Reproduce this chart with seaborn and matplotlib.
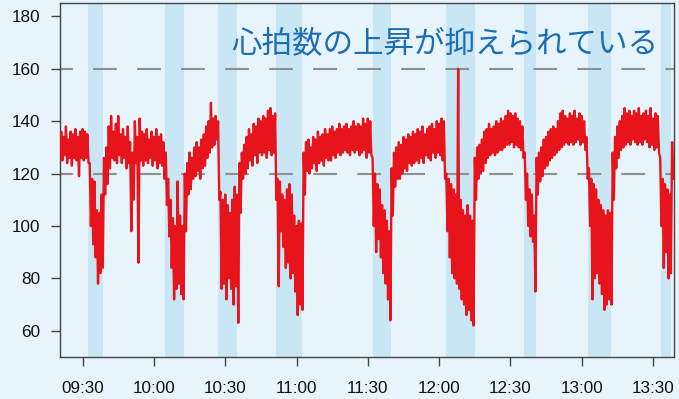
import matplotlib
matplotlib.use("Agg")
import matplotlib.pyplot as plt
import seaborn as sns
import pandas as pd

# ---------------- data ----------------
# minutes after 09:00, one entry per minute
minutes = list(range(20, 279))
# per-minute upper and lower extremes of the heart-rate trace (bpm)
hr_upper = [
    135, 136, 134, 138, 133, 136, 135, 137, 134, 136,
    137, 136, 135, 124, 118, 117, 106, 105, 112, 126,
    130, 138, 142, 136, 139, 142, 135, 137, 134, 138,
    132, 128, 140, 134, 141, 136, 135, 137, 133, 136,
    134, 137, 134, 135, 132, 128, 118, 110, 103, 100,
    117, 104, 100, 120, 124, 128, 126, 130, 132, 130,
    133, 135, 138, 140, 147, 141, 142, 140, 113, 110,
    112, 108, 105, 110, 115, 112, 124, 128, 131, 134,
    137, 135, 139, 138, 141, 140, 142, 141, 144, 145,
    142, 143, 118, 117, 112, 110, 114, 116, 112, 104,
    100, 102, 101, 128, 132, 133, 130, 134, 133, 136,
    134, 135, 137, 135, 137, 138, 136, 137, 139, 137,
    138, 139, 137, 138, 140, 138, 139, 138, 141, 139,
    141, 140, 126, 120, 116, 114, 108, 106, 102, 98,
    122, 128, 130, 132, 131, 134, 133, 135, 134, 136,
    135, 137, 136, 138, 135, 137, 138, 139, 137, 140,
    139, 141, 140, 120, 118, 116, 114, 112, 160, 110,
    106, 104, 108, 104, 102, 126, 130, 131, 133, 136,
    137, 139, 137, 138, 140, 139, 141, 140, 142, 144,
    143, 142, 143, 141, 140, 138, 128, 120, 114, 112,
    104, 126, 128, 130, 133, 134, 136, 137, 138, 137,
    140, 143, 144, 142, 141, 143, 142, 144, 141, 143,
    142, 140, 134, 122, 118, 116, 114, 110, 108, 106,
    104, 106, 105, 128, 134, 138, 140, 142, 145, 143,
    144, 142, 144, 143, 145, 142, 143, 144, 142, 145,
    141, 143, 142, 126, 118, 116, 114, 112, 132,
]
hr_lower = [
    126, 125, 127, 124, 126, 123, 126, 125, 119, 126,
    125, 126, 124, 100, 93, 88, 78, 82, 84, 112,
    116, 122, 126, 125, 124, 127, 124, 126, 122, 124,
    98, 110, 124, 86, 125, 123, 125, 124, 126, 123,
    125, 122, 124, 123, 118, 108, 96, 84, 72, 76,
    78, 74, 72, 98, 112, 114, 118, 119, 121, 118,
    122, 123, 126, 128, 130, 131, 133, 110, 76, 78,
    72, 80, 76, 70, 77, 63, 105, 118, 120, 122,
    125, 123, 127, 124, 128, 127, 128, 126, 129, 127,
    128, 110, 77, 98, 92, 84, 86, 80, 82, 75,
    66, 70, 68, 112, 121, 120, 122, 124, 121, 124,
    125, 123, 126, 125, 125, 127, 126, 128, 127, 128,
    129, 128, 127, 129, 128, 129, 127, 128, 129, 126,
    128, 127, 100, 90, 95, 88, 82, 78, 72, 64,
    104, 115, 118, 118, 120, 122, 121, 124, 123, 124,
    125, 124, 126, 124, 127, 126, 125, 128, 126, 128,
    127, 125, 118, 98, 88, 82, 80, 78, 76, 72,
    70, 66, 68, 64, 62, 110, 118, 120, 121, 124,
    126, 127, 128, 127, 128, 129, 129, 130, 131, 131,
    132, 130, 131, 130, 129, 126, 110, 100, 96, 94,
    75, 112, 117, 119, 122, 123, 125, 126, 127, 128,
    129, 130, 131, 132, 131, 132, 131, 132, 133, 131,
    132, 129, 118, 100, 72, 80, 82, 78, 74, 68,
    70, 72, 70, 110, 122, 126, 129, 130, 131, 132,
    131, 133, 132, 131, 132, 131, 133, 132, 130, 131,
    129, 130, 128, 100, 84, 90, 80, 82, 118,
]
# shaded intervals (minutes after 09:00)
band_start = [32.2, 64.8, 87.0, 111.3, 152.3, 182.8, 215.9, 242.6, 273.3]
band_end = [38.4, 72.5, 94.9, 122.1, 159.6, 194.9, 220.8, 252.5, 277.6]
# reference lines
ref_levels = [120, 160]
# axes ticks
x_ticks = [30, 60, 90, 120, 150, 180, 210, 240, 270]
x_tick_labels = ["09:30", "10:00", "10:30", "11:00", "11:30",
                 "12:00", "12:30", "13:00", "13:30"]
y_ticks = [60, 80, 100, 120, 140, 160, 180]
title_text = "心拍数の上昇が抑えられている"

# build the trace: upper and lower extreme for each minute
times, values = [], []
for m, hi, lo in zip(minutes, hr_upper, hr_lower):
    times += [m, m + 0.5]
    values += [hi, lo]
df = pd.DataFrame({"t": times, "hr": values})

# ---------------- style ----------------
sns.set_theme(style="white")
bg = "#E7F4FC"
plt.rcParams["font.family"] = ["Liberation Sans", "Noto Sans CJK JP", "DejaVu Sans"]

fig = plt.figure(figsize=(6.79, 3.99), dpi=100, facecolor=bg)
ax = fig.add_axes([60 / 679, 1 - 357 / 399, 614 / 679, 354 / 399])
ax.set_facecolor(bg)

for s, e in zip(band_start, band_end):
    ax.axvspan(s, e, color="#C8E6F3", lw=0, zorder=0)

lw_d = 1.5
for lv in ref_levels:
    ax.axhline(lv, color="#8F8F8F", lw=lw_d, zorder=1,
               linestyle=(7.9 / lw_d, (17.1 / lw_d, 14.6 / lw_d)))

red = "#E8141B"
sns.lineplot(data=df, x="t", y="hr", ax=ax, color=red, linewidth=1.7,
             estimator=None, sort=False, zorder=3)

ax.set_xlim(20.5, 278.8)
ax.set_ylim(50, 185.1)
ax.set_xticks(x_ticks)
ax.set_xticklabels(x_tick_labels)
ax.set_yticks(y_ticks)
ax.set_xlabel("")
ax.set_ylabel("")

for sp in ax.spines.values():
    sp.set_color("#444444")
    sp.set_linewidth(1.0)
    sp.set_visible(True)

ax.tick_params(axis="both", direction="out", length=6.8, width=1.0,
               color="#444444", labelsize=12.3, labelcolor="#111111",
               bottom=True, left=True, top=False, right=False)
ax.tick_params(axis="y", pad=7.3)
ax.tick_params(axis="x", pad=10.5)
ax.grid(False)

ax.text(0.626, 0.886, title_text, transform=ax.transAxes, ha="center",
        va="center", fontsize=22, color="#1B6EB5",
        family=["Noto Sans CJK JP", "DejaVu Sans"], zorder=5)

fig.savefig("out.png", dpi=100, facecolor=bg)
